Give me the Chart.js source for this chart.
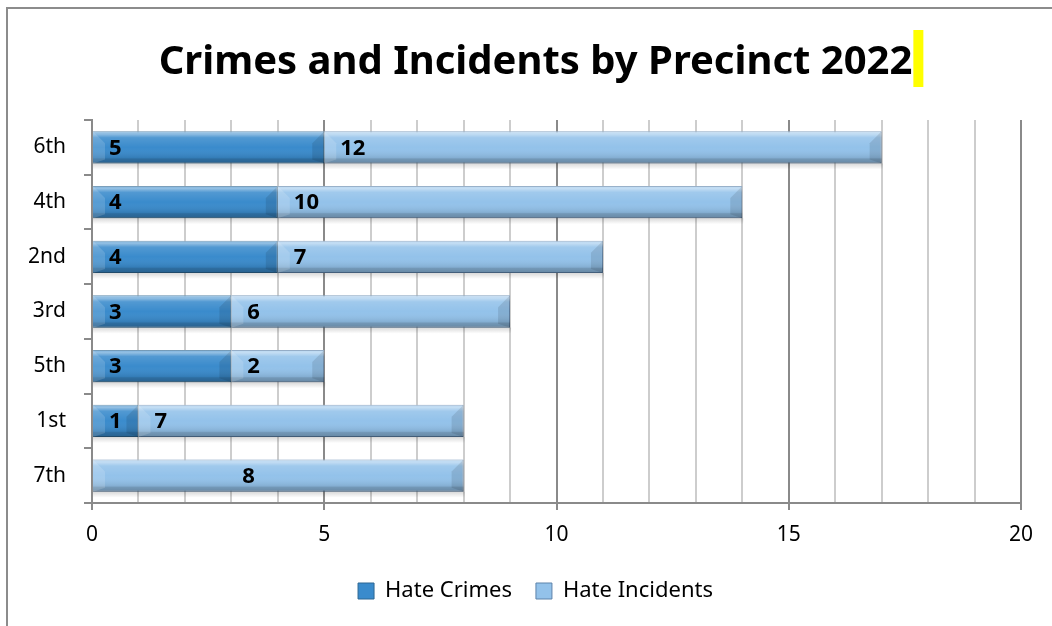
<!DOCTYPE html>
<html>
<head>
<meta charset="utf-8">
<script src="https://cdn.jsdelivr.net/npm/chart.js@4"></script>
<style>
  html, body { margin: 0; padding: 0; background: #fff; }
  canvas { display: block; }
</style>
</head>
<body>
<canvas id="precincts" width="1052" height="626"></canvas>
<script>
const precincts = ["6th", "4th", "2nd", "3rd", "5th", "1st", "7th"];
const hateCrimes = [5, 4, 4, 3, 3, 1, 0];
const hateIncidents = [12, 10, 7, 6, 2, 7, 8];
const xTicks = [0, 5, 10, 15, 20];

const titleText = "Crimes and Incidents by Precinct 2022";
const fontName = "'Noto Sans', 'DejaVu Sans', sans-serif";
const titleSize = 40;

// white page plus the grey frame round the chart
const frame = {
  id: "frame",
  beforeDraw(chart) {
    const ctx = chart.ctx;
    ctx.save();
    ctx.fillStyle = "#fff";
    ctx.fillRect(0, 0, chart.width, chart.height);
    ctx.strokeStyle = "#8c8c8c";
    ctx.lineWidth = 2;
    ctx.beginPath();
    ctx.moveTo(7, chart.height);
    ctx.lineTo(7, 8);
    ctx.lineTo(chart.width, 8);
    ctx.stroke();
    ctx.restore();
  },
  afterDraw(chart) {
    // yellow text cursor after the title
    const t = chart.titleBlock;
    const ctx = chart.ctx;
    ctx.save();
    ctx.font = "bold " + titleSize + "px " + fontName;
    const w = ctx.measureText(titleText).width;
    const cx = (t.left + t.right) / 2;
    ctx.fillStyle = "#ffff00";
    ctx.fillRect(cx + w / 2 + 1, 30, 10, 57);
    ctx.restore();
  }
};

// soft shadow under the bars, gloss on them and the numbers inside
const barLook = {
  id: "barLook",
  beforeDatasetsDraw(chart) {
    const ctx = chart.ctx;
    chart.getDatasetMeta(1).data.forEach((bar) => {
      const right = Math.max(bar.base, bar.x);
      const bottom = bar.y + bar.height / 2;
      const g = ctx.createLinearGradient(0, bottom, 0, bottom + 6);
      g.addColorStop(0, "rgba(0,0,0,0.15)");
      g.addColorStop(1, "rgba(0,0,0,0)");
      ctx.save();
      ctx.fillStyle = g;
      ctx.fillRect(chart.chartArea.left + 1, bottom, right - chart.chartArea.left, 6);
      ctx.restore();
    });
  },
  afterDatasetsDraw(chart) {
    const ctx = chart.ctx;
    chart.data.datasets.forEach((ds, di) => {
      const meta = chart.getDatasetMeta(di);
      meta.data.forEach((bar, i) => {
        const v = ds.data[i];
        if (!v) return;
        const left = Math.min(bar.base, bar.x);
        const right = Math.max(bar.base, bar.x);
        const top = bar.y - bar.height / 2;
        const h = bar.height;
        ctx.save();
        const g = ctx.createLinearGradient(0, top, 0, top + h);
        g.addColorStop(0, "rgba(255,255,255,0.35)");
        g.addColorStop(0.08, "rgba(255,255,255,0.45)");
        g.addColorStop(0.2, "rgba(255,255,255,0.12)");
        g.addColorStop(0.5, "rgba(255,255,255,0)");
        g.addColorStop(0.82, "rgba(0,0,0,0.1)");
        g.addColorStop(0.86, "rgba(0,0,0,0.22)");
        g.addColorStop(1, "rgba(0,0,0,0.3)");
        ctx.fillStyle = g;
        ctx.fillRect(left, top, right - left, h);
        // bevel corners at the ends
        ctx.fillStyle = "rgba(0,0,0,0.1)";
        ctx.beginPath();
        ctx.moveTo(right, top);
        ctx.lineTo(right - 12, top + 12);
        ctx.lineTo(right - 12, top + h - 4);
        ctx.lineTo(right, top + h);
        ctx.fill();
        ctx.fillStyle = "rgba(255,255,255,0.15)";
        ctx.beginPath();
        ctx.moveTo(left, top);
        ctx.lineTo(left + 12, top + 12);
        ctx.lineTo(left + 12, top + h - 4);
        ctx.lineTo(left, top + h);
        ctx.fill();
        ctx.restore();

        ctx.save();
        ctx.font = "bold 22px " + fontName;
        ctx.fillStyle = "#000";
        ctx.textBaseline = "middle";
        const before = di > 0 ? chart.data.datasets[di - 1].data[i] : null;
        if (before === 0) {
          ctx.textAlign = "center";
          ctx.fillText(String(v), left + (right - left) * 0.42, bar.y + 1);
        } else {
          ctx.textAlign = "left";
          ctx.fillText(String(v), left + 16, bar.y + 1);
        }
        ctx.restore();
      });
    });
  }
};

new Chart(document.getElementById("precincts"), {
  type: "bar",
  data: {
    labels: precincts,
    datasets: [
      {
        label: "Hate Crimes",
        data: hateCrimes,
        backgroundColor: "#3a8bcc",
        borderColor: "#2d6793",
        borderWidth: 1,
        barPercentage: 0.59,
        categoryPercentage: 1
      },
      {
        label: "Hate Incidents",
        data: hateIncidents,
        backgroundColor: "#93c2ea",
        borderColor: "#5d83aa",
        borderWidth: 1,
        barPercentage: 0.59,
        categoryPercentage: 1
      }
    ]
  },
  options: {
    indexAxis: "y",
    responsive: false,
    animation: false,
    layout: { padding: { left: 50, right: 31, top: 8, bottom: 14 } },
    plugins: {
      title: {
        display: true,
        text: titleText,
        color: "#000",
        font: { family: fontName, size: titleSize, weight: "bold" },
        padding: { top: 31, bottom: 33 }
      },
      legend: {
        position: "bottom",
        labels: {
          color: "#000",
          font: { family: fontName, size: 22 },
          boxWidth: 16,
          boxHeight: 16,
          padding: 24
        }
      },
      tooltip: { enabled: false }
    },
    scales: {
      x: {
        stacked: true,
        min: 0,
        max: 20,
        afterBuildTicks(scale) {
          const t = [];
          for (let v = 0; v <= 20; v++) t.push({ value: v });
          scale.ticks = t;
        },
        afterFit(scale) { scale.height = 53; },
        ticks: {
          autoSkip: false,
          maxRotation: 0,
          color: "#000",
          font: { family: fontName, size: 21 },
          padding: 12,
          callback: (value) => (xTicks.includes(value) ? value : "")
        },
        grid: {
          color: (c) => (c.tick && xTicks.includes(c.tick.value) ? "#8a8a8a" : "#cdcdcd"),
          tickColor: (c) => (c.tick && xTicks.includes(c.tick.value) ? "#8a8a8a" : "rgba(0,0,0,0)"),
          tickLength: 7,
          lineWidth: 2
        },
        border: { color: "#8a8a8a", width: 2 }
      },
      y: {
        stacked: true,
        afterFit(scale) {
          scale.width = 42;
          // let the precinct names run left of the narrow axis box
          scale._computeLabelArea = () => undefined;
        },
        ticks: {
          color: "#000",
          font: { family: fontName, size: 21 },
          padding: 18
        },
        grid: {
          drawOnChartArea: false,
          color: "#8a8a8a",
          tickLength: 8,
          lineWidth: 2
        },
        border: { color: "#8a8a8a", width: 2 }
      }
    }
  },
  plugins: [frame, barLook]
});
</script>
</body>
</html>
